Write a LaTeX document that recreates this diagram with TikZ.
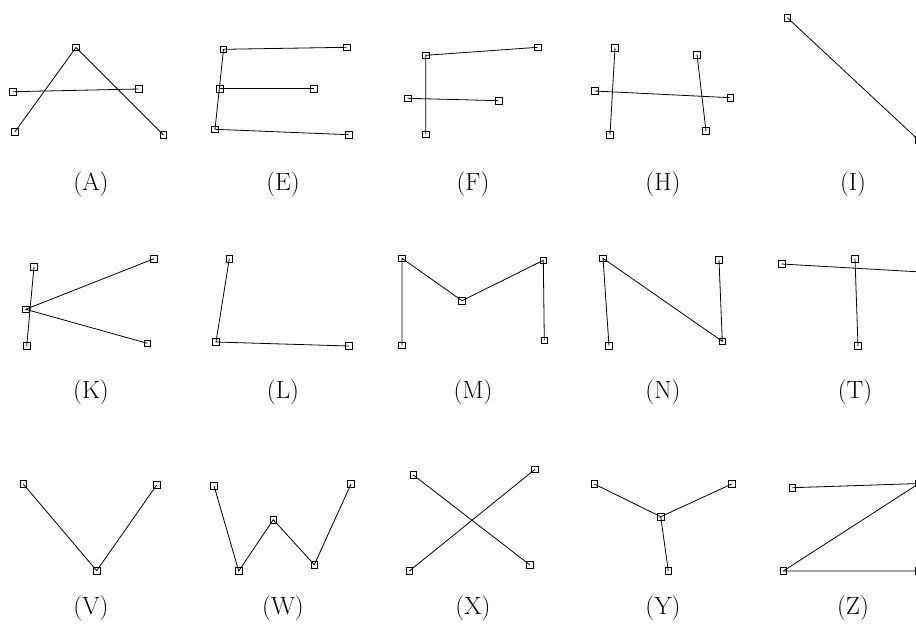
\documentclass[tikz,border=0pt]{standalone}
\begin{document}
\begin{tikzpicture}[x=1pt,y=-1pt,
  pt/.style={draw,rectangle,minimum size=6.5pt,inner sep=0pt,line width=0.7pt},
  seg/.style={line width=0.8pt},
  lab/.style={font=\fontsize{25}{30}\selectfont}]
\useasboundingbox (0,0) rectangle (916,633);
\clip (0,0) rectangle (916,633);
% ---- A
\node[pt] (a1) at (76,47.5) {};
\node[pt] (a2) at (13,91.7) {};
\node[pt] (a3) at (138.7,89) {};
\node[pt] (a4) at (15,131.7) {};
\node[pt] (a5) at (163.5,135) {};
\draw[seg] (a4.center) -- (a1.center) -- (a5.center);
\draw[seg] (a2.center) -- (a3.center);
\node[lab] (la) at (91,184) {(A)};
% ---- E
\node[pt] (e1) at (223.5,49.3) {};
\node[pt] (e2) at (346.7,47.3) {};
\node[pt] (e3) at (220,88.7) {};
\node[pt] (e4) at (314,88.7) {};
\node[pt] (e5) at (215,129.3) {};
\node[pt] (e6) at (349,134.7) {};
\draw[seg] (e2.center) -- (e1.center) -- (e5.center) -- (e6.center);
\draw[seg] (e3.center) -- (e4.center);
\node[lab] (le) at (283,184) {(E)};
% ---- F
\node[pt] (f1) at (425.7,55.3) {};
\node[pt] (f2) at (537.7,47.3) {};
\node[pt] (f3) at (407.7,98.3) {};
\node[pt] (f4) at (498.7,100.7) {};
\node[pt] (f5) at (425.7,134.3) {};
\draw[seg] (f2.center) -- (f1.center) -- (f5.center);
\draw[seg] (f3.center) -- (f4.center);
\node[lab] (lf) at (473,184) {(F)};
% ---- H
\node[pt] (h1) at (615,47.7) {};
\node[pt] (h2) at (610,134.7) {};
\node[pt] (h3) at (594.7,91) {};
\node[pt] (h4) at (730.3,97.7) {};
\node[pt] (h5) at (697,54.7) {};
\node[pt] (h6) at (706,131) {};
\draw[seg] (h1.center) -- (h2.center);
\draw[seg] (h5.center) -- (h6.center);
\draw[seg] (h3.center) -- (h4.center);
\node[lab] (lh) at (663,184) {(H)};
% ---- I
\node[pt] (i1) at (787.3,17.7) {};
\node[pt] (i2) at (918.5,140) {};
\draw[seg] (i1.center) -- (i2.center);
\node[lab] (li) at (853,184) {(I)};
% ---- K
\node[pt] (k1) at (34,266.7) {};
\node[pt] (k2) at (25.7,309.3) {};
\node[pt] (k3) at (26.7,346) {};
\node[pt] (k4) at (154,258.7) {};
\node[pt] (k5) at (147.3,343.3) {};
\draw[seg] (k1.center) -- (k3.center);
\draw[seg] (k4.center) -- (k2.center) -- (k5.center);
\node[lab] (lk) at (91,392) {(K)};
% ---- L
\node[pt] (l1) at (229.3,258.7) {};
\node[pt] (l2) at (216,342) {};
\node[pt] (l3) at (349,346) {};
\draw[seg] (l1.center) -- (l2.center) -- (l3.center);
\node[lab] (ll) at (283,392) {(L)};
% ---- M
\node[pt] (m1) at (402,345.3) {};
\node[pt] (m2) at (402,258.3) {};
\node[pt] (m3) at (462,300.7) {};
\node[pt] (m4) at (543.3,260.3) {};
\node[pt] (m5) at (544.3,340.3) {};
\draw[seg] (m1.center) -- (m2.center) -- (m3.center) -- (m4.center) -- (m5.center);
\node[lab] (lm) at (473,392) {(M)};
% ---- N
\node[pt] (n1) at (609,345.7) {};
\node[pt] (n2) at (603,258.3) {};
\node[pt] (n3) at (722.3,341.3) {};
\node[pt] (n4) at (719,260) {};
\draw[seg] (n1.center) -- (n2.center) -- (n3.center) -- (n4.center);
\node[lab] (ln) at (663,392) {(N)};
% ---- T
\node[pt] (t1) at (781.7,264) {};
\node[pt] (t2) at (930,272.5) {};
\node[pt] (t3) at (855,258.7) {};
\node[pt] (t4) at (858,346) {};
\draw[seg] (t1.center) -- (t2.center);
\draw[seg] (t3.center) -- (t4.center);
\node[lab] (lt) at (855,392) {(T)};
% ---- V
\node[pt] (v1) at (23.3,484) {};
\node[pt] (v2) at (96.7,570.7) {};
\node[pt] (v3) at (156.7,485) {};
\draw[seg] (v1.center) -- (v2.center) -- (v3.center);
\node[lab] (lv) at (91,608) {(V)};
% ---- W
\node[pt] (w1) at (214,485.7) {};
\node[pt] (w2) at (238.7,571) {};
\node[pt] (w3) at (273.3,519.7) {};
\node[pt] (w4) at (314.3,564.7) {};
\node[pt] (w5) at (351,484) {};
\draw[seg] (w1.center) -- (w2.center) -- (w3.center) -- (w4.center) -- (w5.center);
\node[lab] (lw) at (283,608) {(W)};
% ---- X
\node[pt] (x1) at (413.3,475) {};
\node[pt] (x2) at (530,565) {};
\node[pt] (x3) at (409.3,571) {};
\node[pt] (x4) at (535,469.3) {};
\draw[seg] (x1.center) -- (x2.center);
\draw[seg] (x3.center) -- (x4.center);
\node[lab] (lx) at (473,608) {(X)};
% ---- Y
\node[pt] (y1) at (594.3,484) {};
\node[pt] (y2) at (731.7,484) {};
\node[pt] (y3) at (660.7,516.7) {};
\node[pt] (y4) at (668.3,571) {};
\draw[seg] (y1.center) -- (y3.center) -- (y2.center);
\draw[seg] (y3.center) -- (y4.center);
\node[lab] (ly) at (663,608) {(Y)};
% ---- Z
\node[pt] (z1) at (792.3,487.7) {};
\node[pt] (z2) at (919,483.5) {};
\node[pt] (z3) at (783.3,571) {};
\node[pt] (z4) at (919,571) {};
\draw[seg] (z1.center) -- (z2.center) -- (z3.center) -- (z4.center);
\node[lab] (lz) at (853,608) {(Z)};
\end{tikzpicture}
\end{document}
